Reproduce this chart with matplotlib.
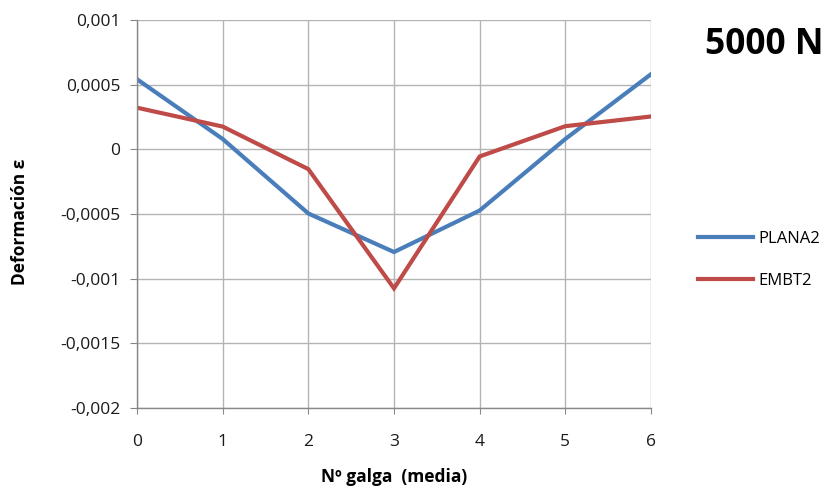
import matplotlib
matplotlib.use("Agg")
import matplotlib.pyplot as plt

# Strain per gauge position (mean values)
gauges = [0, 1, 2, 3, 4, 5, 6]
plana2 = [0.000542, 0.00008, -0.000496, -0.000794, -0.000473, 0.00008, 0.000581]
embt2 = [0.000322, 0.000176, -0.000153, -0.001075, -0.000055, 0.000179, 0.000254]

y_ticks = [0.001, 0.0005, 0, -0.0005, -0.001, -0.0015, -0.002]
y_tick_labels = ["0,001", "0,0005", "0", "-0,0005", "-0,001", "-0,0015", "-0,002"]
x_tick_labels = ["0", "1", "2", "3", "4", "5", "6"]

plt.rcParams["font.family"] = ["Open Sans", "DejaVu Sans"]

fig = plt.figure(figsize=(8.29, 4.91), dpi=100)
ax = fig.add_axes([137 / 829, 1 - 408 / 491, (651 - 137) / 829, (408 - 20) / 491])

grid_c = "#b4b4b4"
ax.plot(gauges, plana2, color="#4a7ebb", lw=3.0, label="PLANA2", solid_joinstyle="miter")
ax.plot(gauges, embt2, color="#be4b48", lw=3.0, label="EMBT2", solid_joinstyle="miter")

ax.set_xlim(0, 6)
ax.set_ylim(-0.002, 0.001)
ax.set_xticks(gauges)
ax.set_xticklabels(x_tick_labels)
ax.set_yticks(y_ticks)
ax.set_yticklabels(y_tick_labels)
ax.grid(True, color=grid_c, lw=1.0)
ax.set_axisbelow(True)

for side in ["top", "right"]:
    ax.spines[side].set_visible(False)
for side in ["left", "bottom"]:
    ax.spines[side].set_color("#888888")
    ax.spines[side].set_linewidth(1.0)

ax.tick_params(axis="y", direction="out", length=5, color="#888888", pad=7,
               labelsize=12.5, labelcolor="#1a1a1a")
ax.tick_params(axis="x", direction="out", length=4, color="#888888", pad=15,
               labelsize=12.5, labelcolor="#1a1a1a")

ax.set_xlabel("Nº galga  (media)", fontsize=12.5, fontweight="bold")
ax.xaxis.set_label_coords(0.5, -0.155)
ax.set_ylabel("Deformación ε", fontsize=12.5, fontweight="bold")
ax.yaxis.set_label_coords(-0.21, 0.48)

fig.text(824 / 829, 1 - 45 / 491, "5000 N", fontsize=25.5, fontweight="bold",
         ha="right", va="center", color="black")

leg = fig.legend(loc="upper left", bbox_to_anchor=(683 / 829, 1 - 216 / 491),
                 frameon=False, fontsize=12, handlelength=3.3, handletextpad=0.3,
                 labelspacing=1.55)

fig.savefig("out.png", dpi=100)
